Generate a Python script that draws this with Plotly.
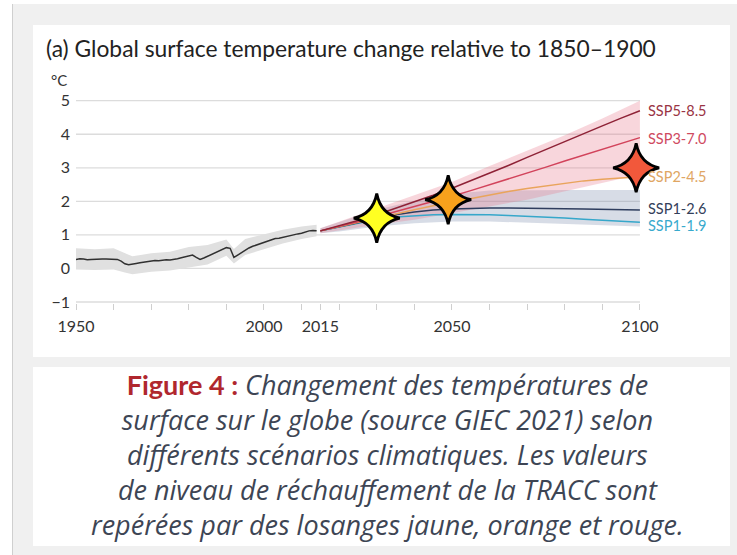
import plotly.graph_objects as go

# ---------------- data ----------------
hist_years = list(range(1950, 2015))
hist_temp = [0.27, 0.29, 0.28, 0.26, 0.27, 0.28, 0.28, 0.28, 0.28, 0.28,
             0.28, 0.27, 0.22, 0.14, 0.11, 0.12, 0.15, 0.17, 0.19, 0.22,
             0.24, 0.24, 0.23, 0.25, 0.26, 0.25, 0.26, 0.29, 0.32, 0.35,
             0.38, 0.40, 0.33, 0.27, 0.31, 0.36, 0.42, 0.47, 0.53, 0.58,
             0.62, 0.60, 0.33, 0.40, 0.47, 0.55, 0.61, 0.66, 0.70, 0.74,
             0.76, 0.82, 0.86, 0.89, 0.90, 0.93, 0.94, 0.97, 1.00, 1.03,
             1.05, 1.09, 1.12, 1.13, 1.12]

hist_band_years = [1950, 1955, 1960, 1963, 1965, 1970, 1975, 1980, 1985, 1990, 1992, 1995, 2000, 2005, 2010, 2014]
hist_band_low = [-0.03, -0.05, -0.03, -0.12, -0.17, -0.10, -0.06, 0.03, 0.12, 0.38, 0.15, 0.40, 0.58, 0.74, 0.88, 0.96]
hist_band_high = [0.60, 0.57, 0.60, 0.45, 0.36, 0.45, 0.50, 0.64, 0.70, 0.86, 0.58, 0.88, 1.02, 1.15, 1.25, 1.30]

proj_years = [2015, 2020, 2025, 2030, 2035, 2040, 2045, 2050, 2055, 2060,
              2065, 2070, 2075, 2080, 2085, 2090, 2095, 2100]
ssp119 = [1.12, 1.23, 1.35, 1.46, 1.53, 1.57, 1.60, 1.61, 1.61, 1.60,
          1.58, 1.56, 1.53, 1.50, 1.47, 1.44, 1.41, 1.38]
ssp126 = [1.12, 1.24, 1.37, 1.50, 1.60, 1.68, 1.74, 1.77, 1.79, 1.80,
          1.80, 1.80, 1.79, 1.78, 1.77, 1.76, 1.75, 1.74]
ssp245 = [1.12, 1.25, 1.38, 1.50, 1.63, 1.75, 1.87, 1.98, 2.09, 2.19,
          2.29, 2.38, 2.46, 2.54, 2.61, 2.66, 2.70, 2.73]
ssp370 = [1.12, 1.25, 1.39, 1.54, 1.69, 1.84, 2.00, 2.15, 2.32, 2.49,
          2.66, 2.84, 3.02, 3.20, 3.38, 3.55, 3.73, 3.90]
ssp585 = [1.12, 1.27, 1.43, 1.60, 1.79, 1.98, 2.18, 2.39, 2.61, 2.84,
          3.07, 3.31, 3.55, 3.79, 4.02, 4.25, 4.48, 4.70]

range_years = [2015, 2020, 2030, 2040, 2050, 2060, 2070, 2080, 2090, 2100]
ssp126_low = [1.05, 1.10, 1.25, 1.35, 1.40, 1.40, 1.38, 1.33, 1.29, 1.25]
ssp126_high = [1.20, 1.38, 1.75, 2.02, 2.22, 2.32, 2.34, 2.34, 2.34, 2.34]
ssp370_low = [1.05, 1.12, 1.30, 1.45, 1.65, 1.85, 2.05, 2.30, 2.55, 2.80]
ssp370_high = [1.20, 1.40, 1.80, 2.20, 2.58, 3.05, 3.50, 3.97, 4.47, 5.00]

scenario_names = ["SSP5-8.5", "SSP3-7.0", "SSP2-4.5", "SSP1-2.6", "SSP1-1.9"]
scenario_label_y = [4.72, 3.87, 2.75, 1.78, 1.28]

star_years = [2030, 2049, 2099]
star_temps = [1.50, 2.05, 3.00]

x_tickvals = [1950, 1960, 1970, 1980, 1990, 2000, 2010, 2015, 2020, 2030,
              2040, 2050, 2060, 2070, 2080, 2090, 2100]
x_ticktext = ["1950", "", "", "", "", "2000", "", "2015", "", "",
              "", "2050", "", "", "", "", "2100"]
y_tickvals = [-1, 0, 1, 2, 3, 4, 5]

title_text = "(a) Global surface temperature change relative to 1850\u20131900"
caption_head = "Figure 4 :"
caption_lines = [
    "Changement des températures de",
    "surface sur le globe (source GIEC 2021) selon",
    "différents scénarios climatiques. Les valeurs",
    "de niveau de réchauffement de la TRACC sont",
    "repérées par des losanges jaune, orange et rouge.",
]

# ---------------- styles ----------------
C_585 = "#8e2236"
C_370 = "#d2435b"
C_245 = "#e9a45c"
C_126 = "#2e3d5e"
C_119 = "#36a7ca"
LBL_COLORS = ["#9a3444", "#cf4a5f", "#e0a663", "#33405a", "#38aacd"]
STAR_COLORS = ["#ffff22", "#f7a11c", "#f2583b"]
FONT = "Lato, 'Open Sans', sans-serif"
CAP_FONT = "'Open Sans', Lato, sans-serif"
# 4-pointed star glyph, in pixels around its anchor
STAR_PATH = "M -23,0 Q -4,4 0,24.5 Q 4,4 23,0 Q 4,-4 0,-24.5 Q -4,-4 -23,0 Z"

W, H = 737, 555
PL, PR, PT, PB = 76, 670, 95, 303
X0, X1 = 1950, 2108
Y0 = -1.03
Y1 = Y0 + (PB - PT) / 33.55


def px(x):
    return (x - PL) / (PR - PL)


def py(y):
    return (PB - y) / (PB - PT)


fig = go.Figure()

fig.add_trace(go.Scatter(
    x=hist_band_years + hist_band_years[::-1],
    y=hist_band_high + hist_band_low[::-1],
    fill="toself", fillcolor="#e0e0e0", line=dict(width=0),
    mode="lines", hoverinfo="skip", showlegend=False))
fig.add_trace(go.Scatter(x=hist_years, y=hist_temp, mode="lines",
                         line=dict(color="#303030", width=1.5), showlegend=False))

fig.add_trace(go.Scatter(
    x=range_years + range_years[::-1],
    y=ssp126_high + ssp126_low[::-1],
    fill="toself", fillcolor="rgba(100,120,158,0.26)", line=dict(width=0),
    mode="lines", hoverinfo="skip", showlegend=False))
fig.add_trace(go.Scatter(
    x=range_years + range_years[::-1],
    y=ssp370_high + ssp370_low[::-1],
    fill="toself", fillcolor="rgba(232,118,140,0.30)", line=dict(width=0),
    mode="lines", hoverinfo="skip", showlegend=False))

for ys, col in [(ssp119, C_119), (ssp126, C_126), (ssp245, C_245), (ssp370, C_370), (ssp585, C_585)]:
    fig.add_trace(go.Scatter(x=proj_years, y=ys, mode="lines",
                             line=dict(color=col, width=1.5), showlegend=False))

shapes = [
    dict(type="rect", xref="paper", yref="paper", x0=px(0), x1=px(12), y0=py(0), y1=py(555),
         fillcolor="white", line=dict(width=0), layer="below"),
    dict(type="rect", xref="paper", yref="paper", x0=px(0), x1=px(737), y0=py(0), y1=py(4),
         fillcolor="white", line=dict(width=0), layer="below"),
    dict(type="line", xref="paper", yref="paper", x0=px(12.5), x1=px(12.5), y0=py(4), y1=py(555),
         line=dict(color="#cfcfcf", width=1), layer="below"),
    dict(type="rect", xref="paper", yref="paper", x0=px(33), x1=px(730), y0=py(25), y1=py(357),
         fillcolor="white", line=dict(width=0), layer="below"),
    dict(type="rect", xref="paper", yref="paper", x0=px(33), x1=px(730), y0=py(367), y1=py(546),
         fillcolor="white", line=dict(width=0), layer="below"),
]
for v in y_tickvals:
    shapes.append(dict(type="line", xref="x", yref="y", x0=1950, x1=2100, y0=v, y1=v,
                       line=dict(color="#dcdcdc", width=1.3), layer="below"))
for yr, tv, col in zip(star_years, star_temps, STAR_COLORS):
    shapes.append(dict(type="path", xref="x", yref="y", xsizemode="pixel", ysizemode="pixel",
                       xanchor=yr, yanchor=tv, path=STAR_PATH, fillcolor=col,
                       line=dict(color="black", width=2.8), layer="above"))

annotations = []
for name, yv, col in zip(scenario_names, scenario_label_y, LBL_COLORS):
    annotations.append(dict(x=2100, y=yv, xref="x", yref="y", text=name, showarrow=False,
                            xanchor="left", yanchor="middle", xshift=6,
                            font=dict(family=FONT, size=14.5, color=col)))
annotations.append(dict(x=px(44), y=py(48), xref="paper", yref="paper", text=title_text,
                        showarrow=False, xanchor="left", yanchor="middle",
                        font=dict(family=FONT, size=22.8, color="#222222")))
annotations.append(dict(x=px(59), y=py(80), xref="paper", yref="paper", text="°C",
                        showarrow=False, xanchor="center", yanchor="middle",
                        font=dict(family=FONT, size=15, color="#333333")))

caption_html = ("<span style='font-family:Lato;font-weight:bold;font-style:normal;color:#b0272e'>"
                + caption_head + "</span> " + "<br>".join(caption_lines))
annotations.append(dict(x=px(387), y=py(454), xref="paper", yref="paper",
                        text=caption_html, showarrow=False, align="center",
                        xanchor="center", yanchor="middle",
                        font=dict(family=CAP_FONT, size=27, style="italic", color="#3d4554")))

fig.update_layout(
    width=W, height=H,
    margin=dict(l=PL, r=W - PR, t=PT, b=H - PB, pad=0),
    paper_bgcolor="#f0f0f0", plot_bgcolor="white",
    font=dict(family=FONT, color="#333333"),
    shapes=shapes, annotations=annotations,
    xaxis=dict(range=[X0, X1], tickvals=x_tickvals, ticktext=x_ticktext,
               showgrid=False, zeroline=False, showline=False,
               ticks="outside", ticklen=6, tickwidth=1.2, tickcolor="#cfcfcf",
               ticklabelstandoff=3, tickfont=dict(family=FONT, size=16, color="#333333")),
    yaxis=dict(range=[Y0, Y1], tickvals=y_tickvals, showgrid=False,
               zeroline=False, showline=False, ticks="",
               ticklabelstandoff=5, tickfont=dict(family=FONT, size=16, color="#333333")),
)

fig.write_html("out.html", config={"displayModeBar": False},
               post_script="document.body.style.margin='0px';document.body.style.overflow='hidden';")
